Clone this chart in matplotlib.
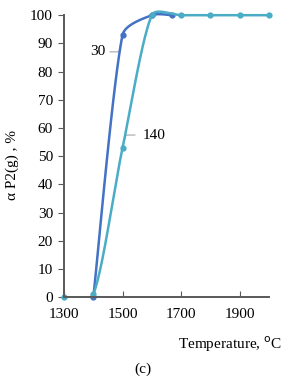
import matplotlib
matplotlib.use("Agg")
import matplotlib.pyplot as plt
from matplotlib.patches import Rectangle
import numpy as np

plt.rcParams['font.family'] = ['Liberation Serif', 'DejaVu Serif']

temps_30 = [1400, 1500, 1600, 1670]
alpha_30 = [0, 93, 100, 100]
temps_140 = [1300, 1400, 1500, 1600, 1700, 1800, 1900, 2000]
alpha_140 = [0, 1, 53, 100, 100, 100, 100, 100]
xticks = [1300, 1500, 1700, 1900]
yticks = [0, 10, 20, 30, 40, 50, 60, 70, 80, 90, 100]

X0, X1, Y0, Y1 = 1300, 2000, 0, 100
AX = [0.224, 0.218, 0.716, 0.742]
FW, FH = 286, 380


def smooth(x, y, n=40, cap=0.3):
    # catmull-rom bezier, control arms limited to a part of the segment length (pixel space)
    kx = AX[2] * FW / (X1 - X0)
    ky = AX[3] * FH / (Y1 - Y0)
    p = np.column_stack([np.asarray(x, float) * kx, np.asarray(y, float) * ky])
    out = []
    t = np.linspace(0, 1, n)[:, None]
    for i in range(len(p) - 1):
        p0 = p[i - 1] if i > 0 else p[i]
        p1, p2 = p[i], p[i + 1]
        p3 = p[i + 2] if i + 2 < len(p) else p[i + 1]
        d12 = np.linalg.norm(p2 - p1)
        a1 = (p2 - p0) / 6
        a2 = (p3 - p1) / 6
        for a in (a1, a2):
            L = np.linalg.norm(a)
            if L > cap * d12:
                a *= cap * d12 / L
        c1 = p1 + a1
        c2 = p2 - a2
        seg = ((1 - t) ** 3 * p1 + 3 * (1 - t) ** 2 * t * c1
               + 3 * (1 - t) * t ** 2 * c2 + t ** 3 * p2)
        out.append(seg)
    out = np.vstack(out)
    return out[:, 0] / kx, out[:, 1] / ky


fig = plt.figure(figsize=(FW / 100, FH / 100), dpi=100)
ax = fig.add_axes(AX)
clip = Rectangle((0, 0), 1, 1.05, transform=ax.transAxes, visible=False)
ax.add_patch(clip)

c30 = '#4472C4'
c140 = '#4BACC6'
sx, sy = smooth(temps_30, alpha_30)
ln, = ax.plot(sx, sy, color=c30, lw=1.8, zorder=3)
ln.set_clip_path(clip)
ax.plot(temps_30, alpha_30, 'o', color=c30, ms=3.5, zorder=3.5, clip_on=False)
sx, sy = smooth(temps_140, alpha_140)
ln, = ax.plot(sx, sy, color=c140, lw=1.8, zorder=4)
ln.set_clip_path(clip)
ax.plot(temps_140, alpha_140, 'o', color=c140, ms=3.5, zorder=4.5, clip_on=False)

ax.set_xlim(X0, X1)
ax.set_ylim(Y0, Y1)
ax.set_xticks(xticks)
ax.set_yticks(yticks)
for s in ['top', 'right']:
    ax.spines[s].set_visible(False)
for s in ['left', 'bottom']:
    ax.spines[s].set_color('#595959')
    ax.spines[s].set_linewidth(1.4)
    ax.spines[s].set_zorder(5)
ax.tick_params(axis='y', direction='out', length=4, color='#595959', labelsize=11, pad=4)
ax.tick_params(axis='x', direction='in', length=4, color='#595959', labelsize=11, pad=8)

# point labels with leader lines
ax.plot([1457, 1488, 1497], [87, 87, 92], color='#a6a6a6', lw=0.8, zorder=2)
ax.text(1442, 87, '30', ha='right', va='center', fontsize=11)
ax.plot([1497, 1512, 1542], [53, 57.5, 57.5], color='#a6a6a6', lw=0.8, zorder=2)
ax.text(1568, 57.5, '140', ha='left', va='center', fontsize=11)

fig.text(0.042, 0.565, 'α P2(g) , %', rotation=90, ha='center', va='center', fontsize=11)
fig.text(0.985, 0.093, 'Temperature, $^{\\mathrm{o}}$C', ha='right', va='center', fontsize=11)
fig.text(0.5, 0.027, '(c)', ha='center', va='center', fontsize=11)

fig.savefig('out.png', dpi=100)
